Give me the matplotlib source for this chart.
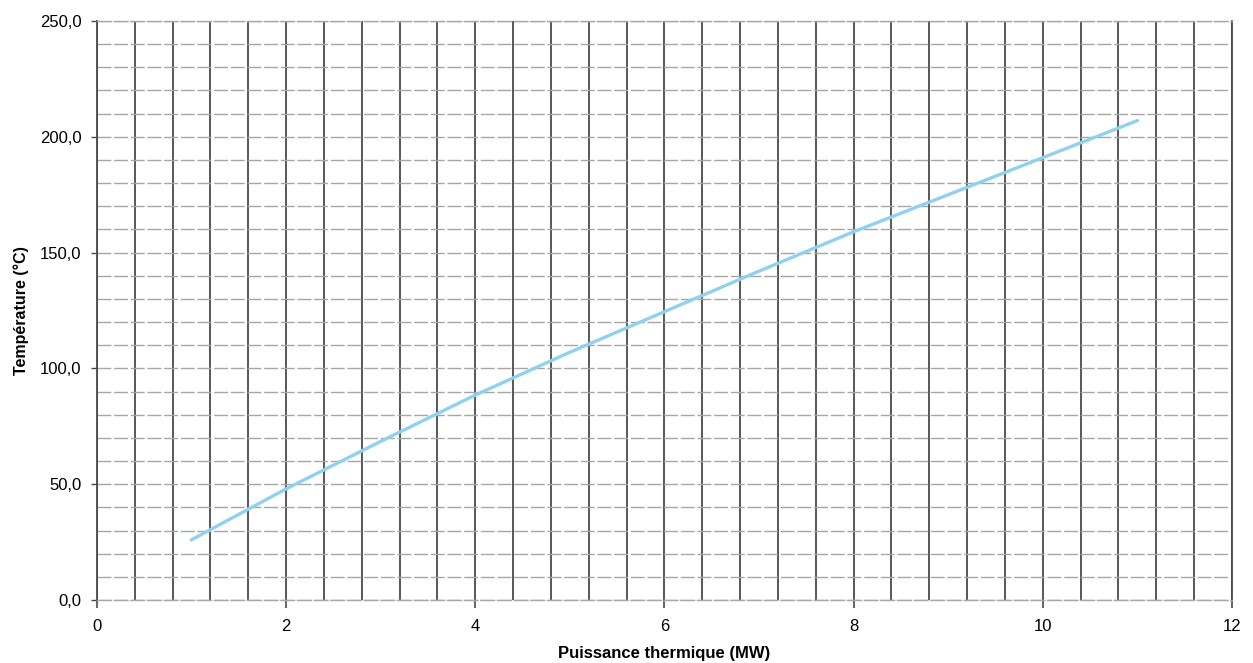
import numpy as np
import matplotlib
matplotlib.use("Agg")
from matplotlib import pyplot as plt
from matplotlib.ticker import MultipleLocator, FuncFormatter

# puissance (MW) / temperature (degC)
puissance = [1, 2, 3, 4, 5, 6, 7, 8, 9, 10, 11]
temperature = [26.0, 48.0, 68.5, 88.5, 107.0, 124.5, 142.0, 159.0, 175.0, 191.0, 207.0]

x_label = "Puissance thermique (MW)"
y_label = "Température (°C)"

plt.rcParams['font.family'] = ['Liberation Sans', 'DejaVu Sans']

fig = plt.figure(figsize=(12.53, 6.63), dpi=100)
ax = fig.add_axes([0.0774, 0.095, 0.9058, 0.8733])

ax.set_xlim(0, 12)
ax.set_ylim(0, 250)

# minor grid: dark verticals every 0.4, light horizontals every 10
ax.xaxis.set_major_locator(MultipleLocator(2))
ax.xaxis.set_minor_locator(MultipleLocator(0.4))
ax.yaxis.set_major_locator(MultipleLocator(50))
ax.yaxis.set_minor_locator(MultipleLocator(10))

ax.grid(which='both', axis='x', color='#4a4a4a', linewidth=1.3)
ax.grid(which='both', axis='y', color='#a6a6a6', linewidth=1.0,
        linestyle=(0, (10, 2)))
ax.set_axisbelow(True)

ax.spines['top'].set_color('#a6a6a6')
ax.spines['top'].set_linewidth(1.0)
ax.spines['top'].set_linestyle((0, (10, 2)))
ax.spines['bottom'].set_color('#a6a6a6')
ax.spines['bottom'].set_linewidth(1.0)
ax.spines['bottom'].set_linestyle((0, (10, 2)))
for side in ['left', 'right']:
    ax.spines[side].set_color('#4a4a4a')
    ax.spines[side].set_linewidth(1.3)

ax.plot(puissance, temperature, color='#8fd1ee', linewidth=2.4, zorder=3)

ax.yaxis.set_major_formatter(FuncFormatter(lambda v, p: f"{v:.1f}".replace('.', ',')))
ax.tick_params(axis='x', which='major', length=6, width=1.2, color='#4a4a4a',
               labelsize=12, pad=8)
ax.tick_params(axis='y', which='major', length=4, width=1.0, color='#4a4a4a',
               labelsize=12, pad=7)
ax.tick_params(which='minor', length=0)

ax.set_xlabel(x_label, fontsize=12, fontweight='bold', labelpad=8)
ax.set_ylabel(y_label, fontsize=11.5, fontweight='bold', labelpad=8)

plt.savefig("out.png", dpi=100)
